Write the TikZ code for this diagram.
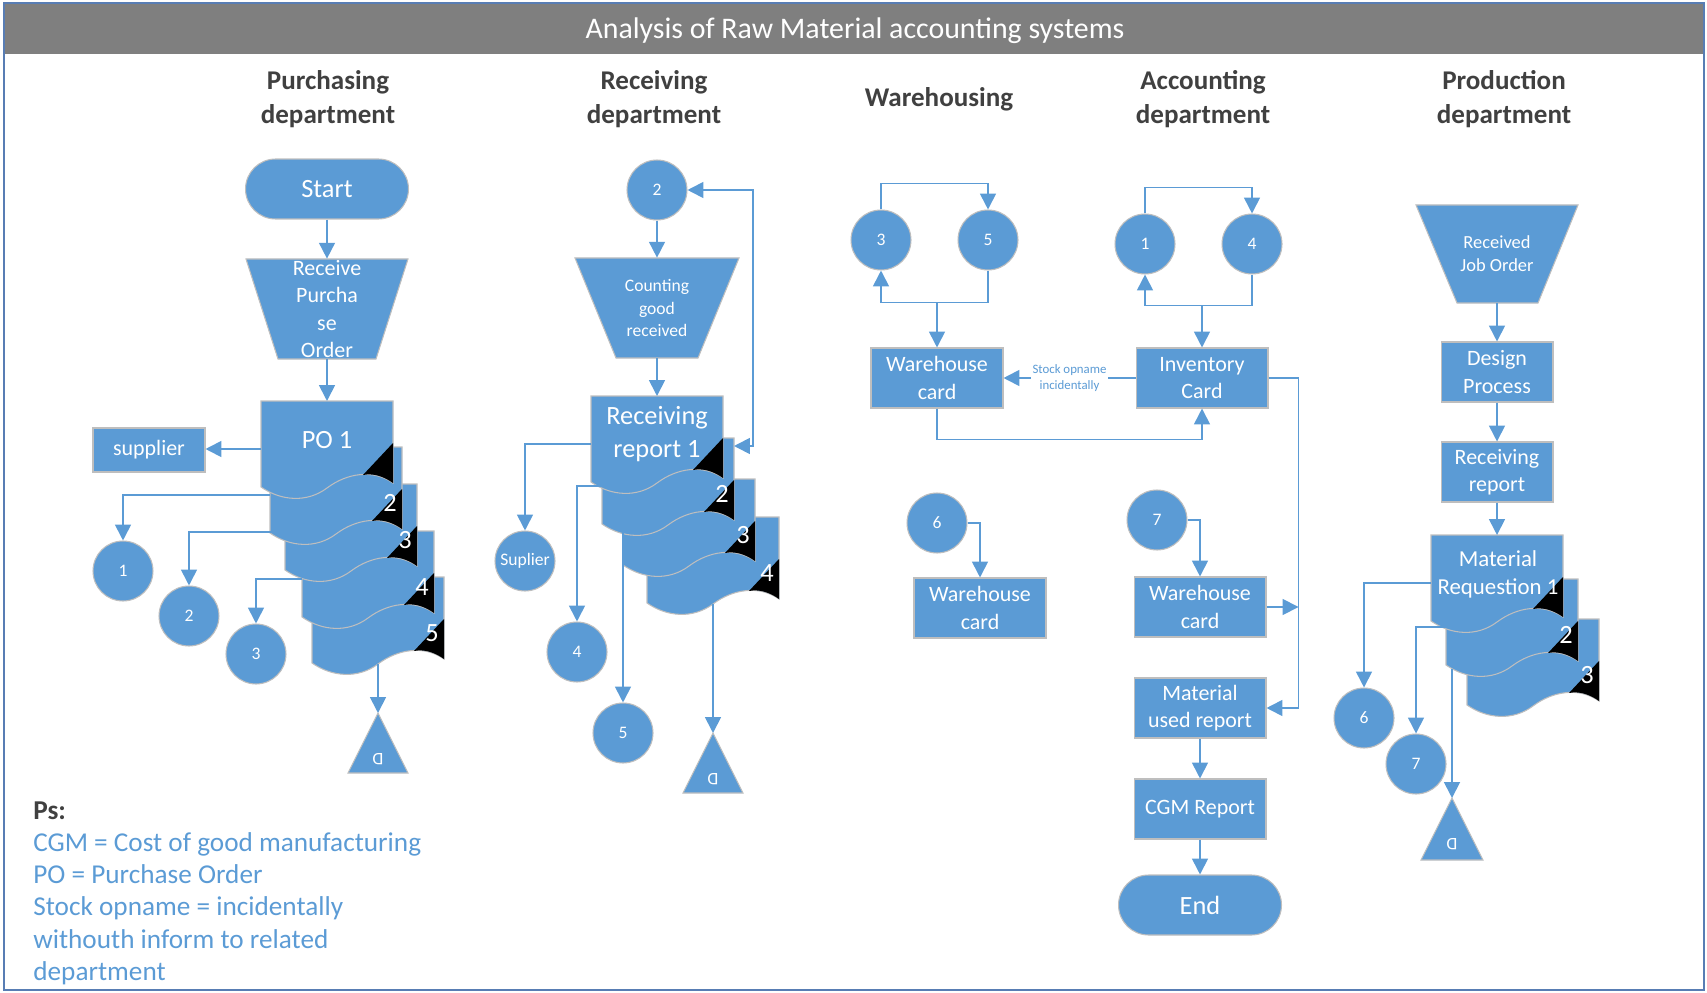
\documentclass[tikz,border=0pt]{standalone}
\usepackage{fontspec}
\setmainfont{Carlito}
\usetikzlibrary{arrows.meta,calc}

\definecolor{boxblue}{RGB}{91,155,213}
\definecolor{edgegray}{RGB}{190,190,190}
\definecolor{bargray}{RGB}{127,127,127}
\definecolor{headgray}{RGB}{64,64,64}
\definecolor{frameblue}{RGB}{88,125,180}

\begin{document}
\begin{tikzpicture}[x=0.02cm, y=-0.02cm, >={Triangle[length=9pt,width=9pt]}]
        \tikzset{
            box/.style={draw=edgegray, fill=boxblue, line width=0.6pt, minimum width=2.64cm, minimum height=1.2cm, inner sep=1pt, align=center, text=white, font=\fontsize{12.5}{15.5}\selectfont},
            term/.style={box, rounded corners=0.6cm, minimum width=3.26cm, font=\fontsize{15}{18}\selectfont},
            conn/.style={circle, draw=edgegray, fill=boxblue, line width=0.6pt, minimum size=1.2cm, inner sep=0pt, text=white, font=\fontsize{10}{12}\selectfont},
            page/.style={draw=edgegray, fill=boxblue, line width=0.6pt},
            pagenum/.style={anchor=east, inner sep=0pt, text=white, font=\fontsize{15}{18}\selectfont},
            doctext/.style={inner sep=0pt, align=center, text=white, font=\fontsize{15}{19}\selectfont},
            traptext/.style={inner sep=0pt, minimum height=2cm, align=center, text=white},
            disk/.style={rotate=180, inner sep=0pt, text=white, font=\fontsize{10}{12}\selectfont},
            head/.style={align=center, text=headgray, font=\fontsize{15.4}{19}\selectfont\bfseries},
            title/.style={text=white, font=\fontsize{17}{20}\selectfont},
            stocklbl/.style={fill=white, inner sep=1pt, align=center, text=boxblue, font=\fontsize{7.3}{9.5}\selectfont},
            notes/.style={anchor=north west, inner sep=0pt, align=left, text=boxblue, font=\fontsize{15.5}{18.4}\selectfont},
            arrow/.style={->, draw=boxblue, line width=1pt},
            docpage/.pic={
                \path[page] (0,0) -- (132,0) -- (132,82) .. controls (112,68) and (86,72) .. (66,87) .. controls (46,102) and (20,100) .. (0,86) -- cycle;
                \fill[black] (102,74) -- (132,42) -- (132,82) .. controls (122,75) and (112,72) .. (102,74) -- cycle;
                \node[pagenum] (-num) at (127,56) {#1};
                \coordinate (-n) at (66,0);
                \coordinate (-ne) at (132,0);
                \coordinate (-w) at (0,48);
                \coordinate (-sw) at (0,86);
                \coordinate (-s) at (66,87);
            }
        }

        \useasboundingbox (0,0) rectangle (1707,993);

        % title bar and frame
        \fill[bargray] (4,3) rectangle (1704,54);
        \node[title] (ttl) at (855,31) {Analysis of Raw Material accounting systems};
        \draw[frameblue, line width=0.8pt] (4,3) rectangle (1704,990);

        \node[head] (hpur) at (328,99) {Purchasing\\department};
        \node[head] (hrec) at (654,99) {Receiving\\department};
        \node[head] (hwar) at (939,99) {Warehousing};
        \node[head] (hacc) at (1203,99) {Accounting\\department};
        \node[head] (hpro) at (1504,99) {Production\\department};

        % purchasing
        \node[term] (start) at (327,189) {Start};
        \path[page] (246,259) -- (408,259) -- (376,359) -- (278,359) -- cycle;
        \node[traptext, font=\fontsize{12.5}{15.4}\selectfont] (rpo) at (327,309) {Receive\\Purcha\\se\\Order};

        \pic (po5) at (312,577) {docpage=5};
        \pic (po4) at (302,531) {docpage=4};
        \pic (po3) at (285,484) {docpage=3};
        \pic (po2) at (270,447) {docpage=2};
        \pic (po1) at (261,401) {docpage};
        \node[doctext] (po1t) at (327,440) {PO 1};

        \node[box, minimum width=2.24cm, minimum height=0.88cm] (sup) at (149,450) {supplier};
        \node[conn] (pc1) at (123,571) {1};
        \node[conn] (pc2) at (189,616) {2};
        \node[conn] (pc3) at (256,654) {3};
        \path[page] (378,713) coordinate (pd1) -- (408,773) -- (348,773) -- cycle;
        \node[disk] (pd1t) at (378,759) {D};

        % receiving
        \node[conn] (rc2) at (657,190) {2};
        \path[page] (575,258) -- (739,258) -- (698,358) -- (616,358) -- cycle;
        \node[traptext, font=\fontsize{10}{12.6}\selectfont] (cgr) at (657,308) {Counting\\good\\received};

        \pic (rr4) at (647,517) {docpage=4};
        \pic (rr3) at (623,479) {docpage=3};
        \pic (rr2) at (602,438) {docpage=2};
        \pic (rr1) at (591,396) {docpage};
        \node[doctext] (rr1t) at (657,434) {Receiving\\report 1};

        \node[conn] (rsup) at (525,561) {Suplier};
        \node[conn] (rc4) at (577,652) {4};
        \node[conn] (rc5) at (623,733) {5};
        \path[page] (713,733) coordinate (pd2) -- (743,793) -- (683,793) -- cycle;
        \node[disk] (pd2t) at (713,779) {D};

        % warehousing
        \node[conn] (wc3) at (881,240) {3};
        \node[conn] (wc5) at (988,240) {5};
        \node[box] (whc) at (937,378) {Warehouse\\card};
        \node[conn] (wc6) at (937,523) {6};
        \node[box] (whc2) at (980,608) {Warehouse\\card};

        % accounting
        \node[conn] (ac1) at (1145,244) {1};
        \node[conn] (ac4) at (1252,244) {4};
        \node[box] (inv) at (1202,378) {Inventory\\Card};
        \node[conn] (ac7) at (1157,520) {7};
        \node[box] (awh) at (1200,607) {Warehouse\\card};
        \node[box] (mur) at (1200,708) {Material\\used report};
        \node[box] (cgm) at (1200,809) {CGM Report};
        \node[term] (finish) at (1200,905) {End};

        % production
        \path[page] (1416,205) -- (1578,205) -- (1538,303) -- (1457,303) -- cycle;
        \node[traptext, minimum height=1.96cm, font=\fontsize{10.5}{13}\selectfont] (rjo) at (1497,254) {Received\\Job Order};
        \node[box, minimum width=2.24cm] (dsg) at (1497,372) {Design\\Process};
        \node[box, minimum width=2.24cm] (prr) at (1497,472) {Receiving\\report};

        \pic (mr3) at (1467,619) {docpage=3};
        \pic (mr2) at (1446,579) {docpage=2};
        \pic (mr1) at (1431,535) {docpage};
        \node[doctext, font=\fontsize{13}{16}\selectfont] (mr1t) at (1498,574) {Material\\Requestion 1};

        \node[conn] (dc6) at (1364,718) {6};
        \node[conn] (dc7) at (1416,764) {7};
        \path[page] (1452,798) coordinate (pd3) -- (1483,860) -- (1421,860) -- cycle;
        \node[disk] (pd3t) at (1452,844) {D};

        % notes
        \node[anchor=base west, inner sep=0pt, text=headgray, font=\fontsize{15.5}{18}\selectfont\bfseries] (ps) at (33,819) {Ps:};
        \node[notes] (psl) at (33,832) {CGM = Cost of good manufacturing\\PO = Purchase Order\\Stock opname = incidentally\\withouth inform to related\\department};

        % connectors
        \draw[arrow] (start) -- (rpo);
        \draw[arrow] (rpo) -- (po1-n);
        \draw[arrow] (po1-w) -- (po1-w -| sup.east);
        \draw[arrow] (po2-w) -| (pc1);
        \draw[arrow] (po3-w) -| (pc2);
        \draw[arrow] (po4-w) -| (pc3);
        \draw[arrow] (po5-s) -- (pd1);

        \draw[arrow] (rc2) -- (cgr);
        \draw[arrow] (cgr) -- (rr1-n);
        \draw[arrow] (rr1-w) -| (rsup);
        \draw[arrow] (rr2-w) -| (rc4);
        \draw[arrow] (rr3-w) -- (rc5);
        \draw[arrow] (rr4-s) -- (pd2);
        \draw[arrow, <->] ($(rr2-ne)+(0,8)$) -- ++(19,0) |- (rc2);

        \draw[arrow] (wc3.north) -- ++(0,-26) -| (wc5.north);
        \draw[arrow] (wc5.south) -- ++(0,32) -| (wc3.south);
        \coordinate (wj) at ($(wc5.south)+(0,32)$);
        \draw[arrow] (wj -| whc) -- (whc);
        \draw[arrow] (wc6) -| (whc2);

        \draw[arrow] (ac1.north) -- ++(0,-26) -| (ac4.north);
        \draw[arrow] (ac4.south) -- ++(0,31) -| (ac1.south);
        \coordinate (aj) at ($(ac4.south)+(0,31)$);
        \draw[arrow] (aj -| inv) -- (inv);
        \draw[arrow] (inv) -- node[stocklbl] (stk) {Stock opname\\incidentally} (whc);
        \draw[arrow] (whc.south) -- ++(0,31) -| (inv.south);
        \coordinate (ix) at ($(inv.east)+(30,0)$);
        \draw[arrow] (inv.east) -- (ix) |- (mur.east);
        \draw[arrow] (ac7) -| (awh);
        \draw[arrow] (awh.east) -- (awh.east -| ix);
        \draw[arrow] (mur) -- (cgm);
        \draw[arrow] (cgm) -- (finish);

        \draw[arrow] (rjo) -- (dsg);
        \draw[arrow] (dsg) -- (prr);
        \draw[arrow] (prr) -- (mr1-n);
        \draw[arrow] (mr1-w) -| (dc6);
        \draw[arrow] (mr2-w) -| (dc7);
        \draw[arrow] ($(mr2-sw)+(6,4)$) -- (pd3);
    \end{tikzpicture}
\end{document}
